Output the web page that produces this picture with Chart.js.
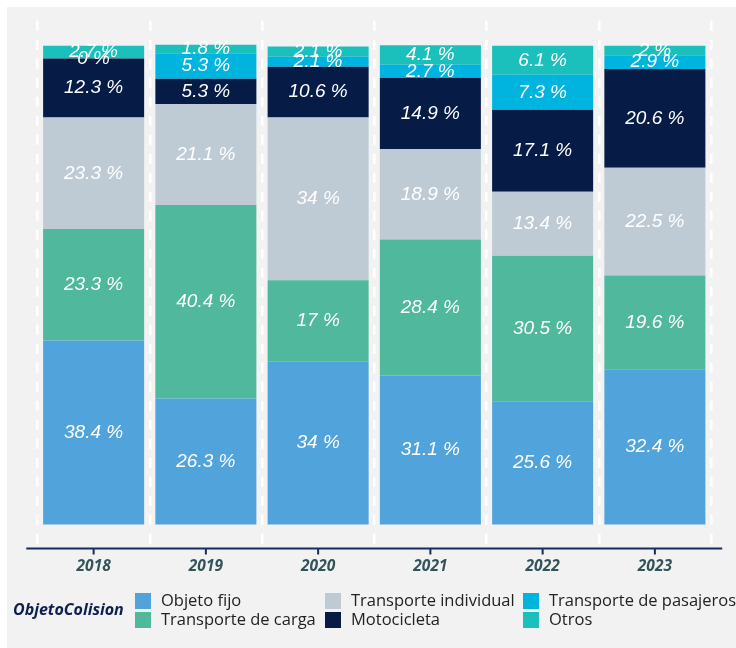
<!DOCTYPE html>
<html>
<head>
<meta charset="utf-8">
<script src="https://cdn.jsdelivr.net/npm/chart.js@4"></script>
<style>
	html, body { margin: 0; padding: 0; background: #ffffff; }
	#panel { position: absolute; left: 7px; top: 7px; width: 729px; height: 641px; background: #f2f2f2; }
</style>
</head>
<body>
<div id="panel"><canvas id="grafica"></canvas></div>
<script>
const anios = ['2018', '2019', '2020', '2021', '2022', '2023'];
const objetoFijo = [38.4, 26.3, 34, 31.1, 25.6, 32.4];
const transporteCarga = [23.3, 40.4, 17, 28.4, 30.5, 19.6];
const transporteIndividual = [23.3, 21.1, 34, 18.9, 13.4, 22.5];
const motocicleta = [12.3, 5.3, 10.6, 14.9, 17.1, 20.6];
const transportePasajeros = [0, 5.3, 2.1, 2.7, 7.3, 2.9];
const otros = [2.7, 1.8, 2.1, 4.1, 6.1, 2];

const tituloLeyenda = 'ObjetoColision';

(function () {
	const grafica = document.getElementById('grafica');

	// --- etiquetas dentro de cada segmento --- //
	const etiquetas = {
		id: 'etiquetas',
		afterDatasetsDraw(chart) {
			const ctx = chart.ctx;
			ctx.save();
			ctx.font = 'italic 19px "Liberation Sans", Arial, sans-serif';
			ctx.fillStyle = '#ffffff';
			ctx.textAlign = 'center';
			ctx.textBaseline = 'middle';
			chart.data.datasets.forEach((ds, i) => {
				chart.getDatasetMeta(i).data.forEach((bar, j) => {
					ctx.fillText(ds.data[j] + ' %', bar.x, (bar.y + bar.base) / 2);
				});
			});
			ctx.restore();
		},
	};

	// --- linea del eje x y marcas --- //
	const ejeX = {
		id: 'ejeX',
		afterDraw(chart) {
			const ctx = chart.ctx;
			const x = chart.scales.x;
			const area = chart.chartArea;
			const paso = (area.right - area.left) / anios.length;
			ctx.save();
			ctx.strokeStyle = '#1a2a5a';
			ctx.lineWidth = 2;
			ctx.beginPath();
			ctx.moveTo(area.left - paso * 0.1, area.bottom);
			ctx.lineTo(area.right + paso * 0.1, area.bottom);
			anios.forEach((a, i) => {
				const px = x.getPixelForValue(i);
				ctx.moveTo(px, area.bottom);
				ctx.lineTo(px, area.bottom + 6);
			});
			ctx.stroke();
			ctx.restore();
		},
	};

	// --- leyenda en dos filas --- //
	const leyenda = {
		id: 'leyenda',
		afterDraw(chart) {
			const ctx = chart.ctx;
			const columnas = [128, 318, 516];
			const filas = [586, 605];
			ctx.save();
			ctx.textBaseline = 'middle';
			ctx.font = 'bold italic 16px "Open Sans", sans-serif';
			ctx.fillStyle = '#0d1f4f';
			ctx.fillText(tituloLeyenda, 6, 603);
			ctx.font = '16.5px "Open Sans", sans-serif';
			chart.data.datasets.forEach((ds, i) => {
				const cx = columnas[Math.floor(i / 2)];
				const cy = filas[i % 2];
				ctx.fillStyle = ds.backgroundColor;
				ctx.fillRect(cx, cy, 16, 16);
				ctx.fillStyle = '#222222';
				ctx.fillText(ds.label, cx + 26, cy + 8);
			});
			ctx.restore();
		},
	};

	new Chart(grafica, {
		type: 'bar',
		data: {
			labels: anios,
			datasets: [
				{ label: 'Objeto fijo', data: objetoFijo, backgroundColor: '#50a3db' },
				{ label: 'Transporte de carga', data: transporteCarga, backgroundColor: '#4fb89d' },
				{ label: 'Transporte individual', data: transporteIndividual, backgroundColor: '#becbd5' },
				{ label: 'Motocicleta', data: motocicleta, backgroundColor: '#061c47' },
				{ label: 'Transporte de pasajeros', data: transportePasajeros, backgroundColor: '#00b4e0' },
				{ label: 'Otros', data: otros, backgroundColor: '#1bbfbb' },
			],
		},
		options: {
			responsive: true,
			maintainAspectRatio: false,
			animation: false,
			barPercentage: 0.9,
			categoryPercentage: 1,
			layout: {
				padding: { left: 30.5, right: 25, top: 13.7, bottom: 63 },
			},
			scales: {
				x: {
					stacked: true,
					border: { display: false, dash: [10, 9] },
					grid: {
						offset: true,
						drawTicks: false,
						color: '#ffffff',
						lineWidth: 2.5,
					},
					ticks: {
						padding: 9,
						color: '#33535a',
						font: { family: '"Open Sans", sans-serif', size: 15.5, weight: 'bold', style: 'italic' },
					},
				},
				y: {
					stacked: true,
					display: false,
					min: -5.01,
					max: 105.21,
				},
			},
			plugins: {
				legend: { display: false },
				tooltip: { enabled: false },
			},
		},
		plugins: [etiquetas, ejeX, leyenda],
	});
})();
</script>
</body>
</html>
